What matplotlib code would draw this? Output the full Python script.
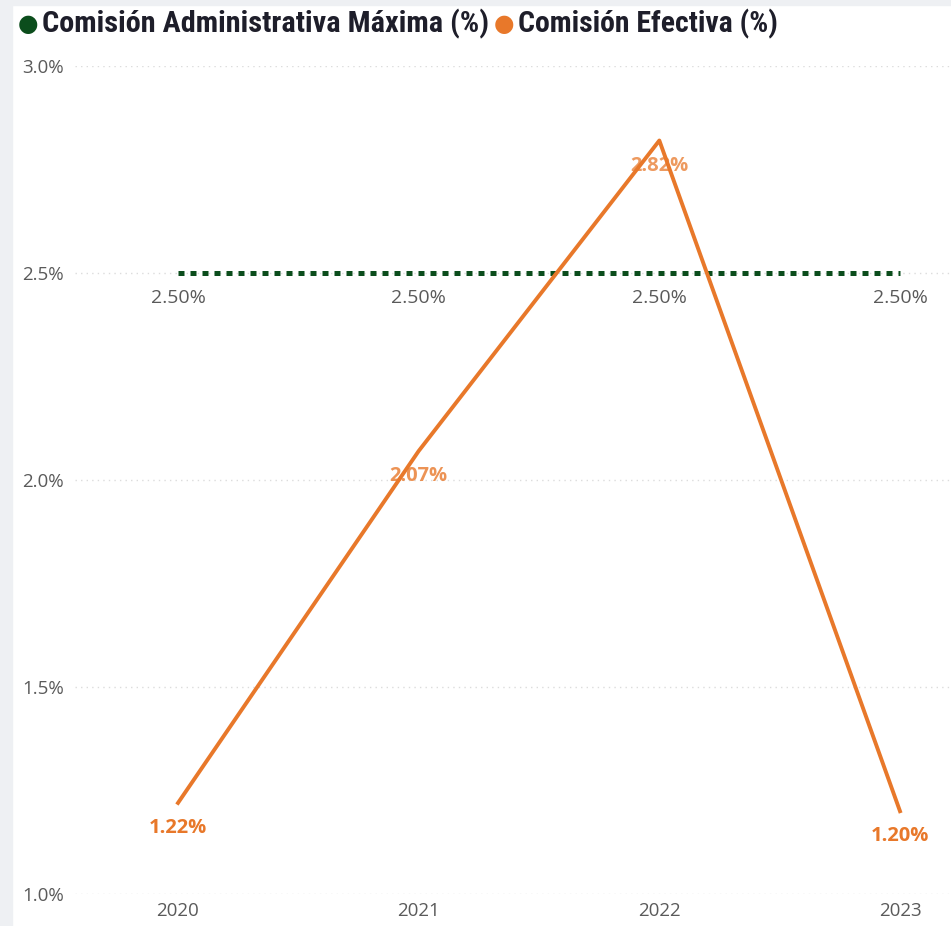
import matplotlib
matplotlib.use("Agg")
import matplotlib.pyplot as plt
from matplotlib import font_manager as fm
from matplotlib.patches import Rectangle

years = [2020, 2021, 2022, 2023]
comision_max = [2.50, 2.50, 2.50, 2.50]
comision_efectiva = [1.22, 2.07, 2.82, 1.20]
yticks = [1.0, 1.5, 2.0, 2.5, 3.0]

verde = '#0b4d1c'
naranja = '#e8782a'
gris = '#5a5a5a'

# buscar una fuente estrecha para la leyenda
nombres = set(f.name for f in fm.fontManager.ttflist)
angosta = None
for n in ['Roboto Condensed', 'Open Sans Condensed', 'Liberation Sans Narrow',
          'Noto Sans Condensed', 'Arial Narrow', 'DejaVu Sans Condensed']:
    if n in nombres:
        angosta = n
        break
if angosta is None:
    for f in fm.fontManager.ttflist:
        if str(f.stretch) in ('condensed', 'semi-condensed', 'extra-condensed'):
            angosta = f.name
            break
if angosta is None:
    angosta = 'Liberation Sans'
fuente_ley = [angosta, 'DejaVu Sans']
fuente = ['Open Sans', 'DejaVu Sans']

fig = plt.figure(figsize=(9.51, 9.26), dpi=100)
fig.patch.set_facecolor('white')
# franjas grises del borde (captura de pantalla)
fig.patches.append(Rectangle((0, 0), 12 / 951, 1, transform=fig.transFigure,
                             color='#eef0f3', zorder=0))
fig.patches.append(Rectangle((0, 1 - 5 / 926), 1, 5 / 926, transform=fig.transFigure,
                             color='#eef0f3', zorder=0))

ax = fig.add_axes([75 / 951, 32 / 926, 876 / 951, 828 / 926])
ax.set_facecolor('none')
ax.set_xlim(2020 - 103 / 240.67, 2023 + 51 / 240.67)
ax.set_ylim(1.0, 3.0)

for s in ax.spines.values():
    s.set_visible(False)

ax.set_yticks(yticks)
ax.set_yticklabels(['%.1f%%' % v for v in yticks], family=fuente, fontsize=13.5, color=gris)
ax.set_xticks(years)
ax.set_xticklabels([str(y) for y in years], family=fuente, fontsize=13.5, color=gris)
ax.tick_params(length=0)
ax.tick_params(axis='y', pad=8)
ax.tick_params(axis='x', pad=6)
ax.grid(axis='y', color='#dcdcdc', linestyle=(0, (1, 3)), linewidth=1)
ax.set_axisbelow(True)

ax.plot(years, comision_max, color=verde, linewidth=3.6, linestyle=(0, (1.2, 1.2)),
        zorder=3, dash_capstyle='butt')
ax.plot(years, comision_efectiva, color=naranja, linewidth=2.8, zorder=3)

for x, v in zip(years, comision_max):
    ax.annotate('%.2f%%' % v, (x, v), xytext=(0, -18), textcoords='offset points',
                ha='center', va='center', family=fuente, fontsize=14, color=gris)

alfas = [1, 0.8, 0.75, 1]
for x, v, a in zip(years, comision_efectiva, alfas):
    ax.annotate('%.2f%%' % v, (x, v), xytext=(0, -18), textcoords='offset points',
                ha='center', va='center', family=fuente, fontsize=14.5, fontweight='bold',
                color=naranja, alpha=a, zorder=2)

# leyenda
fig.canvas.draw()
rend = fig.canvas.get_renderer()


def texto_ajustado(x0, x1, s):
    t = fig.text(x0 / 951, 1 - 24 / 926, s, color='#1e1e2a', fontsize=21,
                 fontweight='bold', va='center', ha='left', family=fuente_ley)
    w = t.get_window_extent(rend).width
    t.set_fontsize(min(22, 21 * (x1 - x0) / w))
    return t


fig.text(18 / 951, 1 - 24 / 926, '●', color=verde, fontsize=17, va='center', ha='left',
         family='DejaVu Sans')
texto_ajustado(42, 487, 'Comisión Administrativa Máxima (%)')
fig.text(494 / 951, 1 - 24 / 926, '●', color=naranja, fontsize=17, va='center', ha='left',
         family='DejaVu Sans')
texto_ajustado(518, 778, 'Comisión Efectiva (%)')

fig.savefig('out.png', dpi=100)
